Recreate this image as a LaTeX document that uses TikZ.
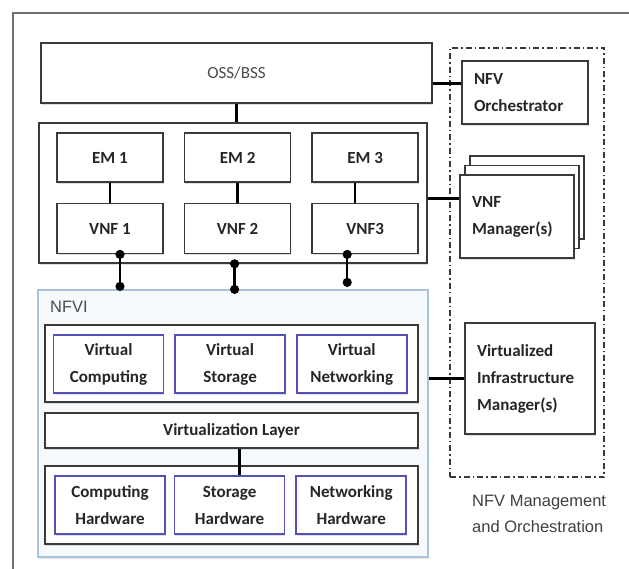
\documentclass[tikz,border=0pt]{standalone}
\usepackage{fontspec}
\setmainfont{Carlito}
\newfontfamily\arialfont{Liberation Sans}
\usepackage{tikz}
\usetikzlibrary{positioning,arrows.meta,calc,shadows}
\definecolor{nfvgray}{HTML}{3A3A3A}
\definecolor{nfvframe}{HTML}{707070}
\definecolor{nfvblue}{HTML}{5450B8}
\definecolor{nfviline}{HTML}{A8C3DA}
\definecolor{nfvifill}{HTML}{F7FAFD}

\begin{document}
\begin{tikzpicture}[x=1pt,y=-1pt,font=\fontsize{17}{27}\selectfont\bfseries,node distance=20pt]
  \tikzstyle{box}=[draw=nfvgray,line width=1.6pt,fill=white,align=center,inner sep=0pt,text=black!85,
    drop shadow={shadow xshift=0.8pt,shadow yshift=-1.8pt,opacity=0.25}]
  \tikzstyle{em}=[box,minimum width=106pt,minimum height=49pt]
  \tikzstyle{vbox}=[box,draw=nfvblue,minimum width=110pt,minimum height=58pt]
  \tikzstyle{side}=[box,align=left,inner xsep=12pt]
  \tikzstyle{link}=[draw=black,line width=2.3pt]
  \tikzstyle{dlink}=[link,{Circle[length=9pt]}-{Circle[length=9pt]},shorten <=-4.5pt,shorten >=-4.5pt]
  \useasboundingbox (0,0) rectangle (629,569);
  \draw[nfvframe,line width=2.5pt] (629,13) -- (13,13) -- (13,569);
  % VNF side
  \node[box,minimum width=391pt,minimum height=60pt,font=\fontsize{17}{27}\selectfont,text=black!70] (oss) at (236.5,73) {OSS/BSS};
  \node[box,minimum width=388pt,minimum height=140pt] (grp) at (233,193) {};
  \node[em] (em1) at (110,157.5) {EM 1};
  \node[em,right=of em1] (em2) {EM 2};
  \node[em,right=of em2] (em3) {EM 3};
  \node[em,minimum height=50pt,below=of em1] (vnf1) {VNF 1};
  \node[em,minimum height=50pt,below=of em2] (vnf2) {VNF 2};
  \node[em,minimum height=50pt,below=of em3] (vnf3) {VNF3};
  % NFVI
  \node[draw=nfviline,fill=nfvifill,line width=1.2pt,minimum width=390pt,minimum height=267pt,
    drop shadow={shadow xshift=0.8pt,shadow yshift=-2pt,opacity=0.2}] (nfvi) at (233,423.5) {};
  \node[anchor=west,inner sep=0pt,font=\arialfont\fontsize{16.5}{20}\selectfont,text=black!70] (nfvilbl) at (50,307) {NFVI};
  \node[box,minimum width=373pt,minimum height=77pt] (vgrp) at (231.5,363.5) {};
  \node[vbox] (vc) at (108.5,364) {Virtual\\Computing};
  \node[vbox,right=10pt of vc] (vs) {Virtual\\Storage};
  \node[vbox,right=10pt of vs] (vn) {Virtual\\Networking};
  \node[box,minimum width=373pt,minimum height=35pt] (vl) at (231.5,430.5) {Virtualization Layer};
  \node[box,minimum width=373pt,minimum height=78pt] (hgrp) at (231.5,505) {};
  \node[vbox] (ch) at (110,505) {Computing\\Hardware};
  \node[vbox,right=8pt of ch] (sh) {Storage\\Hardware};
  \node[vbox,right=10pt of sh] (nh) {Networking\\Hardware};
  % MANO
  \node[draw=nfvgray,line width=1.3pt,dash pattern=on 6pt off 3pt on 1.5pt off 3pt,minimum width=154pt,minimum height=429pt] (mano) at (527,262.5) {};
  \node[anchor=north west,inner sep=0pt,align=left,font=\arialfont\fontsize{16.5}{26}\selectfont,text=black!75] (manolbl) at (472,495) {NFV Management\\and Orchestration};
  \node[side,minimum height=63pt,text width=102pt] (orch) at (525,92.5) {NFV\\Orchestrator};
  \node[side,minimum height=83pt,text width=90pt,double copy shadow={shadow xshift=5pt,shadow yshift=9.5pt,draw=nfvgray,fill=white,line width=1.6pt}] (vnfm) at (517,216.5) {VNF\\Manager(s)};
  \node[side,minimum height=111pt,text width=106pt] (vim) at (530,378.5) {Virtualized\\Infrastructure\\Manager(s)};
  % links
  \draw[link] (oss.south) -- (oss.south |- grp.north);
  \draw[link] (em1) -- (vnf1);
  \draw[link] (em2) -- (vnf2);
  \draw[link] ($(em3.south)+(-10,0)$) -- ($(em3.south)+(-10,20)$);
  \draw[dlink] ($(vnf1.south)+(10,0)$) -- ($(vnf1.south |- nfvi.north)+(10,-3)$);
  \draw[dlink] ($(vnf2.south |- grp.south)+(-3,0)$) -- ($(vnf2.south |- nfvi.north)+(-3,0)$);
  \draw[dlink] ($(vnf3.south)+(-18,0)$) -- ($(vnf3.south |- nfvi.north)+(-18,-7)$);
  \draw[link] ($(vl.south)+(8,0)$) -- ($(vl.south |- sh.north)+(8,0)$);
  \draw[link] ($(orch.west)+(0,-9)$) -- ($(orch.west -| oss.east)+(0,-9)$);
  \draw[link] ($(vnfm.west)+(0,-18)$) -- ($(vnfm.west -| grp.east)+(0,-18)$);
  \draw[link] (vim.west) -- (vim.west -| nfvi.east);
\end{tikzpicture}
\end{document}
